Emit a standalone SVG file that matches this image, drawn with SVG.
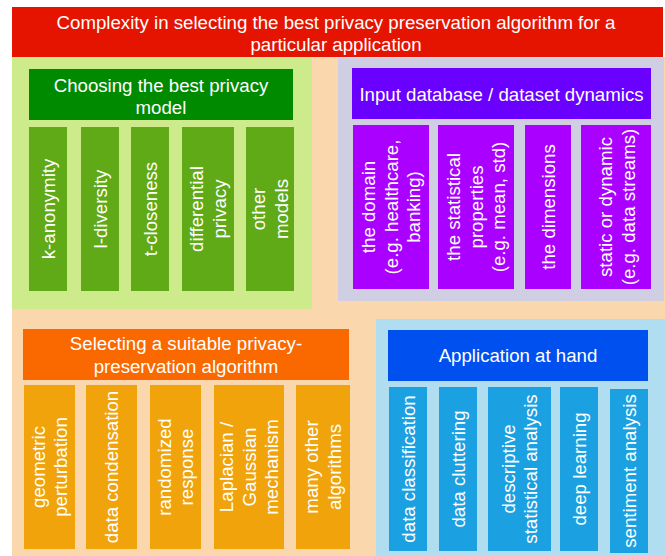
<svg xmlns="http://www.w3.org/2000/svg" width="665" height="556" viewBox="0 0 665 556">
<style>
text{font-family:"Liberation Sans",Arial,Helvetica,sans-serif;font-size:18.67px;fill:#ffffff;text-anchor:middle}
.g{fill:#60a917}.p{fill:#aa00ff}.o{fill:#f0a30a}.b{fill:#1ba1e2}
</style>
<rect x="0" y="0" width="665" height="556" fill="#ffffff"/>
<rect x="12" y="57" width="653" height="499" fill="#fad7ac"/>
<g id="title">
<rect x="12" y="7" width="651" height="50" fill="#e51400"/>
<text x="336" y="28.5">Complexity in selecting the best privacy preservation algorithm for a</text>
<text x="336" y="51">particular application</text>
</g>
<g id="privacy-model">
<rect x="12" y="57" width="300" height="252" fill="#cdeb8b"/>
<rect x="29" y="69" width="264" height="51" fill="#008a00"/>
<text x="161" y="91.5">Choosing the best privacy</text>
<text x="161" y="114">model</text>
<rect class="g" x="29" y="127" width="38" height="164"/>
<rect class="g" x="81" y="127" width="38" height="164"/>
<rect class="g" x="131" y="127" width="38" height="164"/>
<rect class="g" x="182" y="127" width="52" height="164"/>
<rect class="g" x="246" y="127" width="48" height="164"/>
<text transform="translate(48,209) rotate(-90)" y="6.5">k-anonymity</text>
<text transform="translate(100,209) rotate(-90)" y="6.5">l-diversity</text>
<text transform="translate(150,209) rotate(-90)" y="6.5">t-closeness</text>
<text transform="translate(208,209) rotate(-90)"><tspan x="0" y="-4.7">differential</tspan><tspan x="0" y="17.7">privacy</tspan></text>
<text transform="translate(270,209) rotate(-90)"><tspan x="0" y="-4.7">other</tspan><tspan x="0" y="17.7">models</tspan></text>
</g>
<g id="dataset-dynamics">
<rect x="338" y="58" width="326" height="243" fill="#d0cee2"/>
<rect x="352" y="68" width="299" height="51" fill="#6a00ff"/>
<text x="501.5" y="100.7">Input database / dataset dynamics</text>
<rect class="p" x="353" y="125" width="76" height="164"/>
<rect class="p" x="438" y="125" width="76" height="164"/>
<rect class="p" x="525" y="125" width="46" height="164"/>
<rect class="p" x="581" y="125" width="70" height="164"/>
<text transform="translate(391,207) rotate(-90)"><tspan x="0" y="-15.9">the domain</tspan><tspan x="0" y="6.5">(e.g. healthcare,</tspan><tspan x="0" y="28.9">banking)</tspan></text>
<text transform="translate(476,207) rotate(-90)"><tspan x="0" y="-15.9">the statistical</tspan><tspan x="0" y="6.5">properties</tspan><tspan x="0" y="28.9">(e.g. mean, std)</tspan></text>
<text transform="translate(548,207) rotate(-90)" y="6.5">the dimensions</text>
<text transform="translate(617,207) rotate(-90)"><tspan x="0" y="-4.7">static or dynamic</tspan><tspan x="0" y="17.7">(e.g. data streams)</tspan></text>
</g>
<g id="algorithm">
<rect x="23" y="329" width="326" height="51" fill="#fa6800"/>
<text x="186" y="350.3">Selecting a suitable privacy-</text>
<text x="186" y="372.5">preservation algorithm</text>
<rect class="o" x="24" y="385" width="51" height="164"/>
<rect class="o" x="86" y="385" width="51" height="164"/>
<rect class="o" x="150" y="385" width="51" height="164"/>
<rect class="o" x="214" y="385" width="70" height="164"/>
<rect class="o" x="296" y="385" width="54" height="164"/>
<text transform="translate(49.5,467) rotate(-90)"><tspan x="0" y="-4.7">geometric</tspan><tspan x="0" y="17.7">perturbation</tspan></text>
<text transform="translate(111.5,467) rotate(-90)" y="6.5">data condensation</text>
<text transform="translate(175.5,467) rotate(-90)"><tspan x="0" y="-4.7">randomized</tspan><tspan x="0" y="17.7">response</tspan></text>
<text transform="translate(249,467) rotate(-90)"><tspan x="0" y="-15.9">Laplacian /</tspan><tspan x="0" y="6.5">Gaussian</tspan><tspan x="0" y="28.9">mechanism</tspan></text>
<text transform="translate(323,467) rotate(-90)"><tspan x="0" y="-4.7">many other</tspan><tspan x="0" y="17.7">algorithms</tspan></text>
</g>
<g id="application">
<rect x="376" y="319" width="289" height="237" fill="#b1ddf0"/>
<rect x="388" y="330" width="260" height="51" fill="#0050ef"/>
<text x="518" y="362">Application at hand</text>
<rect class="b" x="389" y="387" width="38" height="164"/>
<rect class="b" x="439" y="387" width="38" height="164"/>
<rect class="b" x="488" y="387" width="63" height="164"/>
<rect class="b" x="560" y="387" width="38" height="164"/>
<rect class="b" x="610" y="389" width="38" height="164"/>
<text transform="translate(408,469) rotate(-90)" y="6.5">data classification</text>
<text transform="translate(458,469) rotate(-90)" y="6.5">data cluttering</text>
<text transform="translate(519.5,469) rotate(-90)"><tspan x="0" y="-4.7">descriptive</tspan><tspan x="0" y="17.7">statistical analysis</tspan></text>
<text transform="translate(579,469) rotate(-90)" y="6.5">deep learning</text>
<text transform="translate(629,471) rotate(-90)" y="6.5">sentiment analysis</text>
</g>
<g id="connectors"/>
</svg>
